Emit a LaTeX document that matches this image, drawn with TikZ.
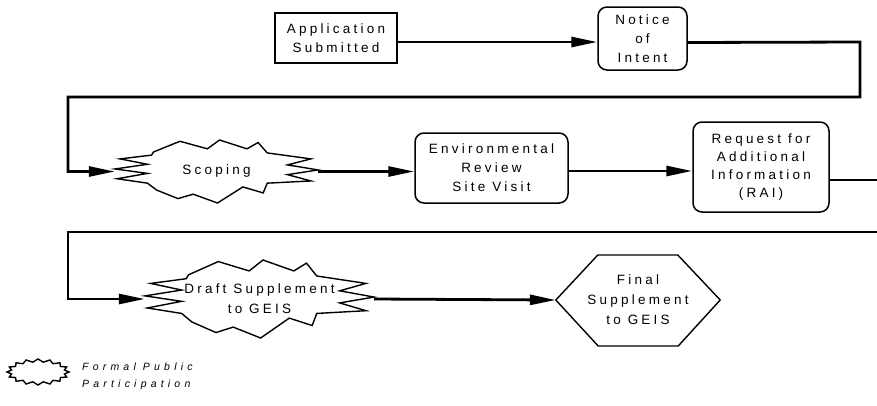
\documentclass[tikz,border=0pt]{standalone}
\usepackage{fontspec}
\setmainfont{Liberation Sans}
\newfontfamily\boxfont[LetterSpace=24]{Liberation Sans}
\newfontfamily\legendfont[LetterSpace=40]{Liberation Sans}
\usetikzlibrary{arrows.meta}

\tikzset{
  flow/.style={line width=2.8pt, -{Triangle[length=26pt,width=10pt]}},
  link/.style={line width=2.8pt},
  frame/.style={draw, line width=1.5pt, align=center, inner sep=0pt,
    font=\boxfont\fontsize{13.5}{19}\selectfont},
  roundframe/.style={frame, rounded corners=9pt},
  plain/.style={align=center, inner sep=0pt,
    font=\boxfont\fontsize{13.5}{20}\selectfont},
  outline/.style={line width=1.4pt, line join=miter},
  % jagged outline used for public-participation steps (unit half-size)
  outburst/.pic={
    \draw[outline] (-0.62,-0.62) -- (-0.36,-0.96) -- (-0.09,-0.72) -- (0.03,-1.0)
      -- (0.30,-0.72) -- (0.41,-0.92) -- (0.50,-0.59) -- (0.93,-0.40)
      -- (0.70,-0.21) -- (1.0,-0.05) -- (0.70,0.10) -- (0.93,0.30)
      -- (0.50,0.37) -- (0.46,0.68) -- (0.26,0.49) -- (0.01,1.0)
      -- (-0.23,0.72) -- (-0.38,0.86) -- (-0.59,0.59) -- (-0.68,0.37)
      -- (-0.98,0.23) -- (-0.68,0.06) -- (-1.0,-0.08) -- (-0.68,-0.23)
      -- (-0.95,-0.40) -- (-0.64,-0.52) -- cycle;
  }
}

\begin{document}
\begin{tikzpicture}[x=1pt,y=-1pt]
\useasboundingbox (0,0) rectangle (877,405);

% process steps
\node[frame, minimum width=122pt, minimum height=50pt] (app) at (336,38)
  {Application\\Submitted};
\node[roundframe, minimum width=89pt, minimum height=63pt] (notice) at (642.5,38.5)
  {Notice\\of\\Intent};
\node[plain, minimum width=203pt, minimum height=63pt] (scoping) at (216.5,171.5)
  {Scoping};
\path (scoping.center) pic[xscale=101.5, yscale=31.5] {outburst};
\node[roundframe, minimum width=153pt, minimum height=70pt] (env) at (491.5,168)
  {Environmental\\Review\\Site Visit};
\node[roundframe, minimum width=136pt, minimum height=90pt,
  font=\boxfont\fontsize{13.5}{18}\selectfont] (rai) at (761,167)
  {Request for\\Additional\\Information\\(RAI)};
\node[plain, minimum width=229pt, minimum height=78pt] (draft) at (259.5,299)
  {Draft Supplement\\to GEIS};
\path (draft.center) pic[xscale=114.5, yscale=39] {outburst};
\node[plain, minimum width=164pt, minimum height=91pt] (final) at (638,300)
  {Final\\Supplement\\to GEIS};
\draw[outline] (final.west) -- ++(42,-45) -- ++(80,0) -- (final.east)
  -- ++(-42,46) -- ++(-80,0) -- cycle;

% bend points of the long return connectors
\coordinate (r1) at (860,42);
\coordinate (r2) at (860,97);
\coordinate (l1) at (68,97);
\coordinate (rEdge) at (877,180);
\coordinate (bEdge) at (877,232);
\coordinate (l2) at (68,232);

% connectors
\draw[flow] ([yshift=-4pt]app.east) -- ([yshift=-4pt]app.east -| notice.west);
\draw[flow] ([yshift=-4pt]notice.east) -- (r1) -- (r2) -- (l1) |- (scoping.west);
\draw[flow] (scoping.east) -- (scoping.east -| env.west);
\draw[flow] ([yshift=-3pt]env.east) -- ([yshift=-3pt]env.east -| rai.west);
\draw[link] ([yshift=-13pt]rai.east) -- (rEdge);
\draw[flow] (bEdge) -- (l2) |- (draft.west);
\draw[flow] (draft.east) -- (final.west);

% legend
\draw[line width=1.4pt] plot[samples at={0,...,31}, variable=\i]
  ({38 + (31 - 4*mod(\i,2))*cos(11.25*\i)}, {372 + (13 - 3*mod(\i,2))*sin(11.25*\i)}) -- cycle;
\node[anchor=west, align=left, inner sep=0pt,
  font=\legendfont\itshape\fontsize{10.5}{17}\selectfont] (legend) at (82,376)
  {Formal Public\\Participation};
\end{tikzpicture}
\end{document}
